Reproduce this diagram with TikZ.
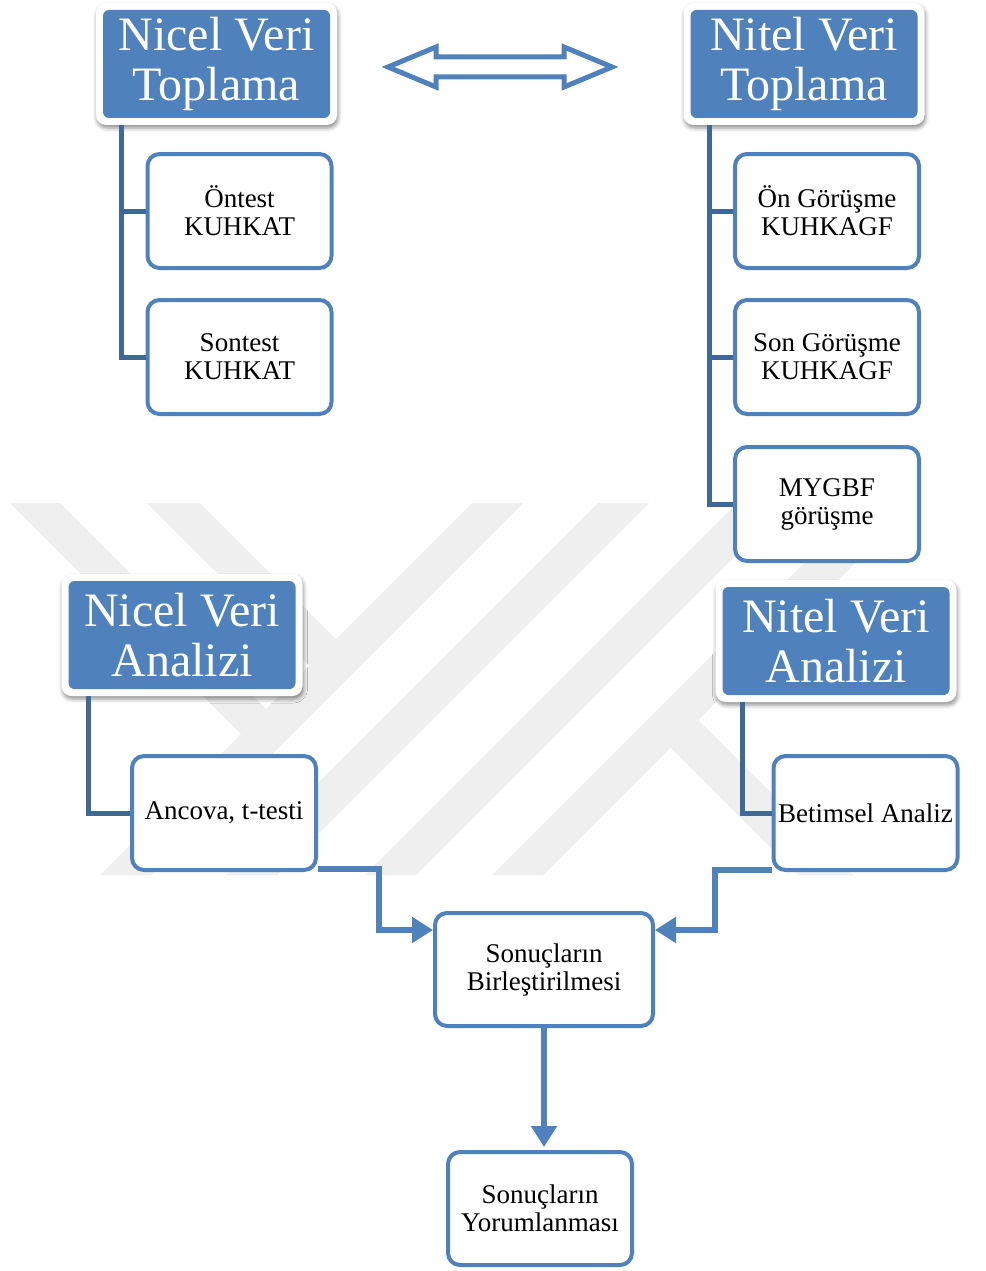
\documentclass[tikz,border=0pt]{standalone}
\usepackage{fontspec}
\setmainfont{Liberation Serif}
\usetikzlibrary{arrows.meta,shadows.blur,calc}
\definecolor{hblue}{HTML}{4F81BD}
\definecolor{tblue}{HTML}{3E6899}
\definecolor{wm}{HTML}{EFEFEF}
\begin{document}
\begin{tikzpicture}[x=1pt,y=-1pt,
  hdr/.style={fill=white, draw=none, rounded corners=10pt, text=white,
    font=\fontsize{48}{50}\selectfont, align=center, minimum width=241pt, minimum height=122pt,
    inner sep=0pt,
    blur shadow={shadow xshift=1pt, shadow yshift=-3pt, shadow blur radius=4pt, shadow opacity=45},
    path picture={\fill[hblue, rounded corners=6pt]
      ([shift={(7pt,-7pt)}]path picture bounding box.north west) rectangle
      ([shift={(-7pt,7pt)}]path picture bounding box.south east);}},
  leaf/.style={fill=white, draw=hblue, line width=4pt, rounded corners=12pt,
    font=\fontsize{27}{28}\selectfont, align=center, minimum width=184pt, minimum height=114pt, inner sep=0pt},
  tree/.style={draw=tblue, line width=5pt},
  flow/.style={draw=hblue, line width=6pt, -{Triangle[length=21pt,width=25pt]}},
]
\useasboundingbox (0,0) rectangle (985,1271);
% watermark
\begin{scope}
  \clip (0,503) rectangle (985,875);
  \foreach \xo in {472,598,737,864}{
    \fill[wm] (\xo,503) -- (\xo+51,503) -- (\xo+51-372,875) -- (\xo-372,875) -- cycle;
  }
  \fill[wm] (10,503) -- (60,503) -- (266,709) -- (241,734) -- cycle;
  \fill[wm] (147,503) -- (200,503) -- (336,639) -- (309.5,665.5) -- cycle;
  \fill[wm] (698,720) -- (853,875) -- (798,875) -- (670.5,747.5) -- cycle;
\end{scope}

% headers
\node[hdr] (nvt) at (216.5,64) {Nicel Veri\\Toplama};
\node[hdr] (ntt) at (804,64) {Nitel Veri\\Toplama};
\node[hdr] (nva) at (182,635) {Nicel Veri\\Analizi};
\node[hdr] (nta) at (836,641) {Nitel Veri\\Analizi};

% leaves
\node[leaf] (on) at (239.5,211) {Öntest\\KUHKAT};
\node[leaf] (son) at (239.5,357) {Sontest\\KUHKAT};
\node[leaf] (ong) at (827,211) {Ön Görüşme\\KUHKAGF};
\node[leaf] (sog) at (827,357) {Son Görüşme\\KUHKAGF};
\node[leaf] (myg) at (827,504) {MYGBF\\görüşme};
\node[leaf] (anc) at (224,813) {Ancova, t-testi};
\node[leaf] (bet) at (865.5,813) {Betimsel Analiz};
\node[leaf, minimum width=218pt, minimum height=113pt] (bir) at (544,969.5) {Sonuçların\\Birleştirilmesi};
\node[leaf, minimum height=113pt] (yor) at (540,1208.5) {Sonuçların\\Yorumlanması};

% tree connectors
\draw[tree] ([xshift=26pt]nvt.south west) |- (on.west);
\draw[tree] ([xshift=26pt]nvt.south west) |- (son.west);
\draw[tree] ([xshift=26pt]ntt.south west) |- (ong.west);
\draw[tree] ([xshift=26pt]ntt.south west) |- (sog.west);
\draw[tree] ([xshift=26pt]ntt.south west) |- (myg.west);
\draw[tree] ([xshift=27pt]nva.south west) |- (anc.west);
\draw[tree] ([xshift=27pt]nta.south west) |- (bet.west);

% double arrow between collection headers
\draw[draw=hblue, line width=5pt, fill=white, line join=miter]
  (388,67) -- (436,47) -- (436,57) -- (564,57) -- (564,47) -- (612,67)
  -- (564,87) -- (564,77) -- (436,77) -- (436,87) -- cycle;

% flow arrows
\draw[flow] ([yshift=3pt]anc.south east) -- ++(61,0) |- ([yshift=-19pt]bir.north west);
\draw[flow] ([yshift=2pt]bet.south west) -- ++(-57,0) |- ([yshift=-19pt]bir.north east);
\draw[flow] (bir.south) -- ++(0,119);
\end{tikzpicture}
\end{document}
